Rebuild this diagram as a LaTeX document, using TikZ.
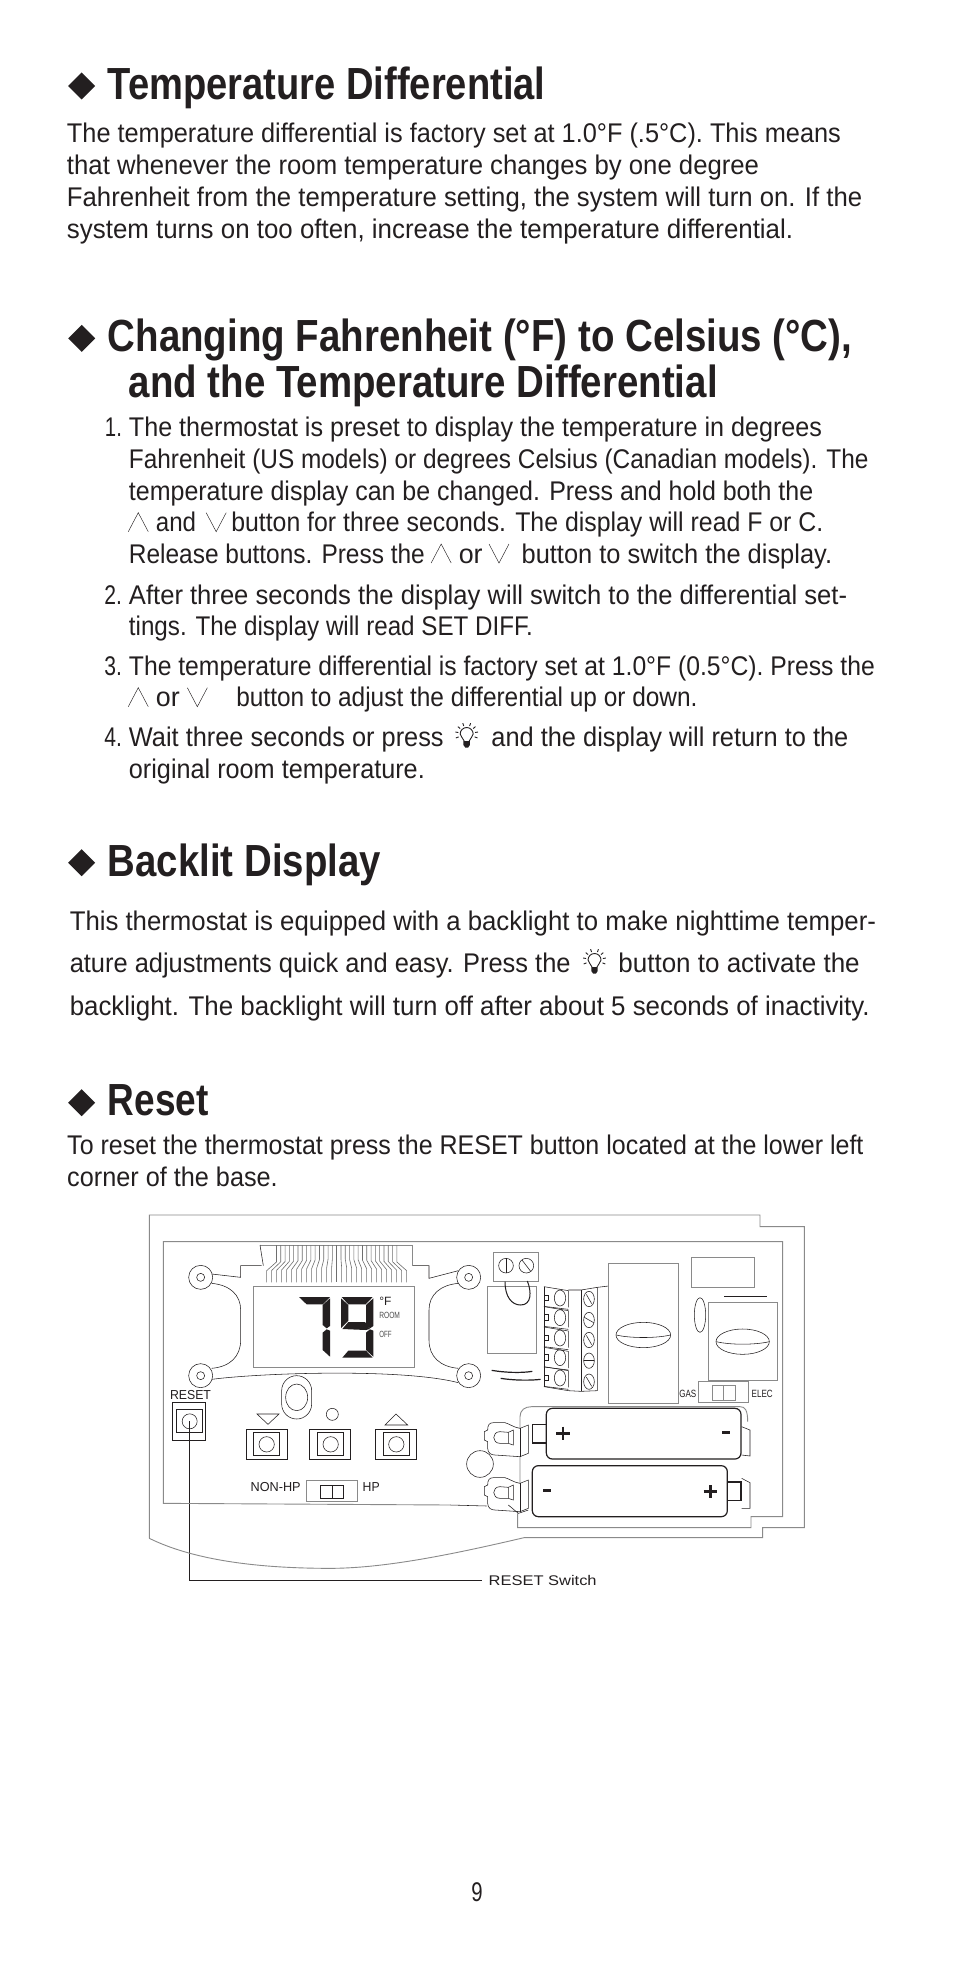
\documentclass[tikz,border=0pt]{standalone}
\usepackage{fontspec}
\usepackage{graphicx}
\setmainfont{Liberation Sans}
\definecolor{ink}{HTML}{231F20}
\definecolor{gline}{HTML}{8A8A8A}
\definecolor{rib}{HTML}{6E6E6E}
\newcommand{\bodyfs}{\fontsize{27}{32}\selectfont}
\newcommand{\headfs}{\fontsize{45}{48}\selectfont\bfseries}
% \TL{name}{x0}{x1}{y}{text}: one line fitted between x0 and x1 (shrunk sheet units), baseline y in pixels
\newcommand{\TL}[5]{%
  \pgfmathsetmacro{\tlw}{(#3-#2)*1.2569}%
  \node[txt] (#1) at (#2*1.2569,-#4) {\resizebox{\tlw pt}{\height}{\bodyfs #5}};}
\newcommand{\HL}[5]{%
  \pgfmathsetmacro{\tlw}{(#3-#2)*1.2569}%
  \node[txt] (#1) at (#2*1.2569,-#4) {\resizebox{\tlw pt}{\height}{\headfs #5}};}
\newcommand{\UP}[2]{\draw[glyph] (#1*1.2569-10,-#2) -- (#1*1.2569,-#2+19) -- (#1*1.2569+10,-#2);}
\newcommand{\DN}[2]{\draw[glyph] (#1*1.2569-10,-#2+19) -- (#1*1.2569,-#2) -- (#1*1.2569+10,-#2+19);}
\newcommand{\DIA}[1]{\fill[ink] (81.7,-#1+13.5) -- ++(13.5,-13.5) -- ++(-13.5,-13.5) -- ++(-13.5,13.5) -- cycle;}
\newcommand{\BULB}[2]{%
  \begin{scope}[shift={(#1*1.2569,-#2)}]
    \draw[ink,line width=.9pt] (-2.5,-7) .. controls (-3,-4) and (-6.5,-3) .. (-6.5,0) arc[start angle=180,end angle=0,radius=6.5] .. controls (6.5,-3) and (3,-4) .. (2.5,-7);
    \fill[ink] (-3.2,-7) -- (3.2,-7) -- (3.2,-11) -- (1.5,-13.5) -- (-1.5,-13.5) -- (-3.2,-11) -- cycle;
    \foreach \a in {-20,10,40,70,110,140,170,200}{\draw[ink,line width=.9pt] (\a:8.5) -- (\a:11.5) ;}
  \end{scope}}
\tikzset{
  txt/.style={inner sep=0pt,outer sep=0pt,anchor=base west,text=ink},
  glyph/.style={ink,line width=.45pt},
  thin line/.style={ink,line width=.55pt},
  grey line/.style={gline,line width=.9pt},
  heavy/.style={ink,line width=1.2pt},
  sheet/.style={x=0.33333pt,y=-0.33333pt},
  lab/.style={inner sep=0pt,outer sep=0pt,text=ink,font=\fontsize{13}{15}\selectfont},
}
\begin{document}
\begin{tikzpicture}[x=1pt,y=1pt]
\useasboundingbox (0,0) rectangle (954,-1972);
\fill[white] (0,0) rectangle (954,-1972);
% ---- text
\DIA{86}
\HL{h1}{85.8}{434}{100}{Temperature Differential}
\TL{a1}{53.3}{669}{142.7}{The temperature differential is factory set at 1.0°F (.5°C). This means}
\TL{a2}{53.3}{604}{175}{that whenever the room temperature changes by one degree}
\TL{a3}{53.3}{686}{206.7}{Fahrenheit from the temperature setting, the system will turn on. If the}
\TL{a4}{53.3}{631}{238}{system turns on too often, increase the temperature differential.}
\DIA{338.3}
\HL{h2a}{85.8}{678}{351}{Changing Fahrenheit (°F) to Celsius (°C),}
\HL{h2b}{102.6}{571}{397}{and the Temperature Differential}
\TL{n1}{83.5}{97}{436.7}{1.}
\TL{b1}{102.6}{654}{436.7}{The thermostat is preset to display the temperature in degrees}
\TL{b2}{102.6}{691}{468}{Fahrenheit (US models) or degrees Celsius (Canadian models). The}
\TL{b3}{102.6}{647}{500}{temperature display can be changed. Press and hold both the}
\UP{110}{531.7}
\TL{b4a}{124}{156}{531.7}{and}
\DN{172}{531.7}
\TL{b4b}{184}{655}{531.7}{button for three seconds. The display will read F or C.}
\TL{b5a}{102.6}{338}{563}{Release buttons. Press the}
\UP{351}{563}
\TL{b5b}{365}{384}{563}{or}
\DN{397}{563}
\TL{b5c}{415}{662}{563}{button to switch the display.}
\TL{n2}{83}{97}{604}{2.}
\TL{c1}{102.6}{674}{604}{After three seconds the display will switch to the differential set-}
\TL{c2}{102.6}{424}{635.7}{tings. The display will read SET DIFF.}
\TL{n3}{83}{97}{675}{3.}
\TL{d1}{102.6}{696}{675}{The temperature differential is factory set at 1.0°F (0.5°C). Press the}
\UP{110}{706.7}
\TL{d2a}{124}{143}{706.7}{or}
\DN{157}{706.7}
\TL{d2b}{188}{555}{706.7}{button to adjust the differential up or down.}
\TL{n4}{83}{97}{746.5}{4.}
\TL{e1a}{102.6}{353}{746.5}{Wait three seconds or press}
\BULB{371.3}{734}
\TL{e1b}{391}{675}{746.5}{and the display will return to the}
\TL{e2}{102.6}{338}{778.5}{original room temperature.}
\DIA{862.7}
\HL{h3}{85.8}{303}{876}{Backlit Display}
\TL{f1}{55.5}{697}{930}{This thermostat is equipped with a backlight to make nighttime temper-}
\TL{f2a}{55.5}{454}{972.7}{ature adjustments quick and easy. Press the}
\BULB{473}{960}
\TL{f2b}{492}{684}{972.7}{button to activate the}
\TL{f3}{55.5}{692}{1015}{backlight. The backlight will turn off after about 5 seconds of inactivity.}
\DIA{1102.7}
\HL{h4}{85.8}{166}{1115}{Reset}
\TL{g1}{53.5}{687}{1154}{To reset the thermostat press the RESET button located at the lower left}
\TL{g2}{53.5}{221}{1186}{corner of the base.}
\TL{pg}{375}{384}{1901.5}{9}
% ---- left half of the drawing (coordinates of a 3x crop at 130,1200)
\begin{scope}[xshift=130pt,yshift=-1200pt,sheet]
  \coordinate (outerL) at (58,1015);
  \coordinate (innerTL) at (100,125);
  % mounting posts
  \foreach \nm/\cx/\cy in {pa/212/232,pb/212/527,pc/1016/232,pd/1016/527}{
    \draw[thin line] (\cx,\cy) circle[radius=12];
    \draw[thin line] (\cx,\cy) circle[radius=36];
  }
  \draw[thin line] (245,222) -- (332,232) -- (332,197) -- (395,197);
  \draw[thin line] (847,197) -- (897,197) -- (897,235) -- (985,212);
  \draw[thin line] (245,250) .. controls (300,255) and (332,285) .. (332,330) -- (332,420) .. controls (332,470) and (300,500) .. (245,505);
  \draw[thin line] (985,250) .. controls (930,255) and (897,285) .. (897,330) -- (897,420) .. controls (897,470) and (930,500) .. (985,505);
  \draw[thin line] (245,538) .. controls (400,518) and (820,505) .. (985,548);
  % ribbon
  \draw[grey line] (390,135) -- (847,135);
  \draw[thin line] (390,135) -- (400,197);
  \draw[grey line] (847,135) -- (847,197);
  \foreach \i in {0,...,28}{
    \pgfmathsetmacro{\lx}{410+\i*15}
    \pgfmathsetmacro{\ux}{620+(\lx-620)*0.86}
    \pgfmathsetmacro{\uy}{186-(1-abs(\lx-620)/210)*10}
    \pgfmathsetmacro{\ly}{212-(1-abs(\lx-620)/210)*10}
    \draw[rib,line width=.6pt] (\ux,135) -- (\ux,\uy) -- (\lx,\ly) -- (\lx,247);
  }
  % display
  \draw[grey line] (370,259) rectangle (853,501);
  \fill[ink] (507,291) -- (600,291) -- (578,313) -- (530,313) -- cycle;
  \fill[ink] (600,295) -- (600,378) -- (590,385) -- (578,375) -- (578,315) -- cycle;
  \fill[ink] (600,392) -- (600,470) -- (578,450) -- (578,398) -- (590,388) -- cycle;
  \fill[ink] (635,291) -- (728,291) -- (707,313) -- (655,313) -- cycle;
  \fill[ink] (633,295) -- (655,315) -- (655,362) -- (633,384) -- cycle;
  \fill[ink] (730,295) -- (730,378) -- (720,385) -- (708,375) -- (708,315) -- cycle;
  \fill[ink] (637,387) -- (655,366) -- (705,366) -- (720,387) -- (707,390) -- cycle;
  \fill[ink] (730,392) -- (730,470) -- (708,450) -- (708,398) -- (720,388) -- cycle;
  \fill[ink] (637,473) -- (728,473) -- (708,452) -- (655,452) -- cycle;
  \node[lab,font=\fontsize{12}{14}\selectfont,anchor=base west] (deg) at (748,315) {°F};
  \node[lab,text=black!70,font=\fontsize{9}{10}\selectfont,anchor=base west] (room) at (748,354) {\resizebox{20.7pt}{\height}{ROOM}};
  \node[lab,text=black!70,font=\fontsize{9}{10}\selectfont,anchor=base west] (off) at (748,411) {\resizebox{12.3pt}{\height}{OFF}};
  % buttons
  \draw[thin line,rounded corners=15] (455,527) rectangle (545,657);
  \draw[thin line] (500,592) ellipse[x radius=33,y radius=40];
  \draw[thin line] (381,642) -- (447,642) -- (414,673) -- cycle;
  \draw[thin line] (607,643) circle[radius=18];
  \draw[thin line] (765,675) -- (833,675) -- (798,642) -- cycle;
  \foreach \ax/\bx/\cx/\dx/\ex in {349/370/448/471/410,539/562/640/661/602,737/760/838/859/799}{
    \draw[thin line] (\ax,688) rectangle (\dx,778);
    \draw[thin line] (\bx,697) rectangle (\cx,767);
    \draw[thin line] (\ex,733) circle[radius=23];
  }
  \draw[thin line] (128,608) rectangle (227,721);
  \draw[thin line] (140,628) rectangle (218,698);
  \node[draw=ink,line width=.55pt,circle,minimum size=15pt,inner sep=0pt] (rst) at (179,664) {};
  \node[lab,anchor=base west] (rl) at (120,597) {\resizebox{41pt}{\height}{RESET}};
  \node[lab,anchor=base west] (nh) at (362,873) {\resizebox{50pt}{\height}{NON-HP}};
  \node[lab,anchor=base west] (hp) at (698,873) {\resizebox{17pt}{\height}{HP}};
  \draw[grey line] (529,841) rectangle (683,904);
  \draw[thin line] (571,855) rectangle (641,895);
  \draw[thin line] (606,855) -- (606,895);
  \draw[thin line] (1050,792) circle[radius=40];
  % leader
  \node[lab,anchor=base west,font=\fontsize{14}{16}\selectfont] (sw) at (1076,1157) {\resizebox{108pt}{\height}{RESET Switch}};
  \coordinate (bend) at (179,1141);
  \coordinate (lend) at (1055,1141);
  \draw[ink,line width=.8pt] (rst.center) -- (bend) -- (lend);
\end{scope}
% ---- right half of the drawing (coordinates of a 3x crop at 450,1200)
\begin{scope}[xshift=450pt,yshift=-1200pt,sheet]
  % outlines
  \draw[grey line] (outerL) -- (-902,45) -- (930,45) -- (930,80) -- (1063,80) -- (1063,983) -- (938,983) -- (938,1013) -- (222,1013) .. controls (0,1065) and (-200,1105) .. (-360,1105) .. controls (-600,1105) and (-780,1075) .. (outerL);
  \draw[grey line] (1,915) -- (-860,910) -- (innerTL) -- (998,125) -- (998,950) -- (903,950) -- (903,983) -- (203,983) -- (203,940);
  \draw[thin line] (1,915) -- (110,918);
  % screw pair and relay
  \draw[grey line] (130,157) rectangle (266,243);
  \draw[thin line] (168,197) circle[radius=22];
  \draw[thin line] (168,175) -- (168,219);
  \draw[thin line] (229,197) circle[radius=22];
  \draw[thin line] (216,180) -- (242,214);
  \draw[grey line] (112,259) rectangle (259,460);
  \draw[ink,line width=1pt] (165,245) .. controls (165,290) and (185,315) .. (212,315) .. controls (245,315) and (245,275) .. (232,243);
  \draw[ink,line width=1.2pt] (125,511) .. controls (160,517) and (210,520) .. (247,514);
  \draw[ink,line width=1.2pt] (152,535) .. controls (190,541) and (240,542) .. (272,538);
  % terminal block
  \draw[thin line] (282,260) -- (282,560);
  \foreach \k/\ty/\ey in {0/260/294,1/320/353,2/381/414,3/442/473,4/500/534}{
    \draw[thin line] (282,\ty) -- (355,\ty+12) -- (355,\ty+62);
    \draw[thin line] (282,\ty+59) -- (355,\ty+68);
    \draw[thin line] (330,\ey) ellipse[x radius=17,y radius=24];
    \draw[thin line] (282,\ey-9) rectangle (295,\ey+7);
  }
  \draw[thin line] (282,560) -- (355,572) -- (393,574) -- (442,572) -- (442,262) -- (393,270) -- (355,270);
  \draw[thin line] (393,270) -- (393,574);
  \foreach \sy/\sa in {297/60,360/30,420/60,482/0,545/60}{
    \draw[thin line] (417,\sy) ellipse[x radius=16,y radius=23];
    \draw[thin line] (417,\sy) ++(\sa:-16) -- ++(\sa:32);
  }
  \draw[thin line] (442,262) -- (476,258);
  % relay 1
  \draw[grey line] (476,190) rectangle (685,610);
  \draw[thin line] (580,405) ellipse[x radius=82,y radius=38];
  \draw[thin line] (499,405) .. controls (540,415) and (620,415) .. (661,405);
  % relay 2
  \draw[grey line] (724,173) rectangle (914,262);
  \draw[ink,line width=1.2pt] (823,289) -- (950,289);
  \draw[thin line] (750,345) ellipse[x radius=17,y radius=52];
  \draw[grey line] (775,307) rectangle (983,541);
  \draw[thin line] (878,425) ellipse[x radius=80,y radius=38];
  \draw[thin line] (799,425) .. controls (840,435) and (915,435) .. (958,425);
  % gas switch
  \draw[grey line] (745,545) rectangle (896,607);
  \draw[grey line] (787,557) rectangle (855,600);
  \draw[grey line] (821,557) -- (821,600);
  \node[lab,font=\fontsize{10.5}{12}\selectfont,anchor=base west] (gas) at (688,592) {\resizebox{17pt}{\height}{GAS}};
  \node[lab,font=\fontsize{10.5}{12}\selectfont,anchor=base west] (elec) at (905,592) {\resizebox{21pt}{\height}{ELEC}};
  % battery compartment
  \draw[grey line] (210,930) -- (210,650) .. controls (210,630) and (225,620) .. (245,620) -- (870,620) .. controls (885,620) and (893,630) .. (893,665);
  \draw[thin line] (875,680) -- (900,690) -- (900,768) -- (875,765);
  \draw[thin line] (875,835) -- (900,848) -- (900,925) -- (875,925);
  % clips
  \foreach \dy in {0,165}{
    \begin{scope}[yshift=-\dy*0.33333pt]
      \draw[thin line,fill=white] (235,675) -- (210,685) .. controls (190,682) and (180,672) .. (165,668) -- (130,668) .. controls (118,668) and (113,675) .. (113,690) -- (103,695) -- (103,720) -- (113,725) -- (113,745) .. controls (113,760) and (125,765) .. (135,765) -- (180,768) -- (210,770) -- (235,760) -- cycle;
      \draw[thin line] (210,685) -- (210,770);
      \draw[thin line] (175,697) -- (150,695) .. controls (125,695) and (125,730) .. (150,730) -- (175,730) -- cycle;
      \draw[thin line] (175,697) -- (190,690) -- (190,735) -- (175,730);
    \end{scope}
  }
  \draw[thin line] (175,915) -- (205,940) -- (235,930);
  % batteries
  \draw[heavy] (248,673) rectangle (289,729);
  \draw[heavy,fill=white,rounded corners=6pt] (289,625) rectangle (873,777);
  \draw[heavy] (832,846) rectangle (873,901);
  \draw[heavy,fill=white,rounded corners=6pt] (247,797) rectangle (832,950);
  \draw[ink,line width=2.4pt] (319,700) -- (359,700) (339,680) -- (339,720);
  \draw[ink,line width=2.4pt] (816,698) -- (840,698);
  \draw[ink,line width=2.4pt] (280,871) -- (304,871);
  \draw[ink,line width=2.4pt] (761,875) -- (801,875) (781,855) -- (781,895);
\end{scope}
\end{tikzpicture}
\end{document}
